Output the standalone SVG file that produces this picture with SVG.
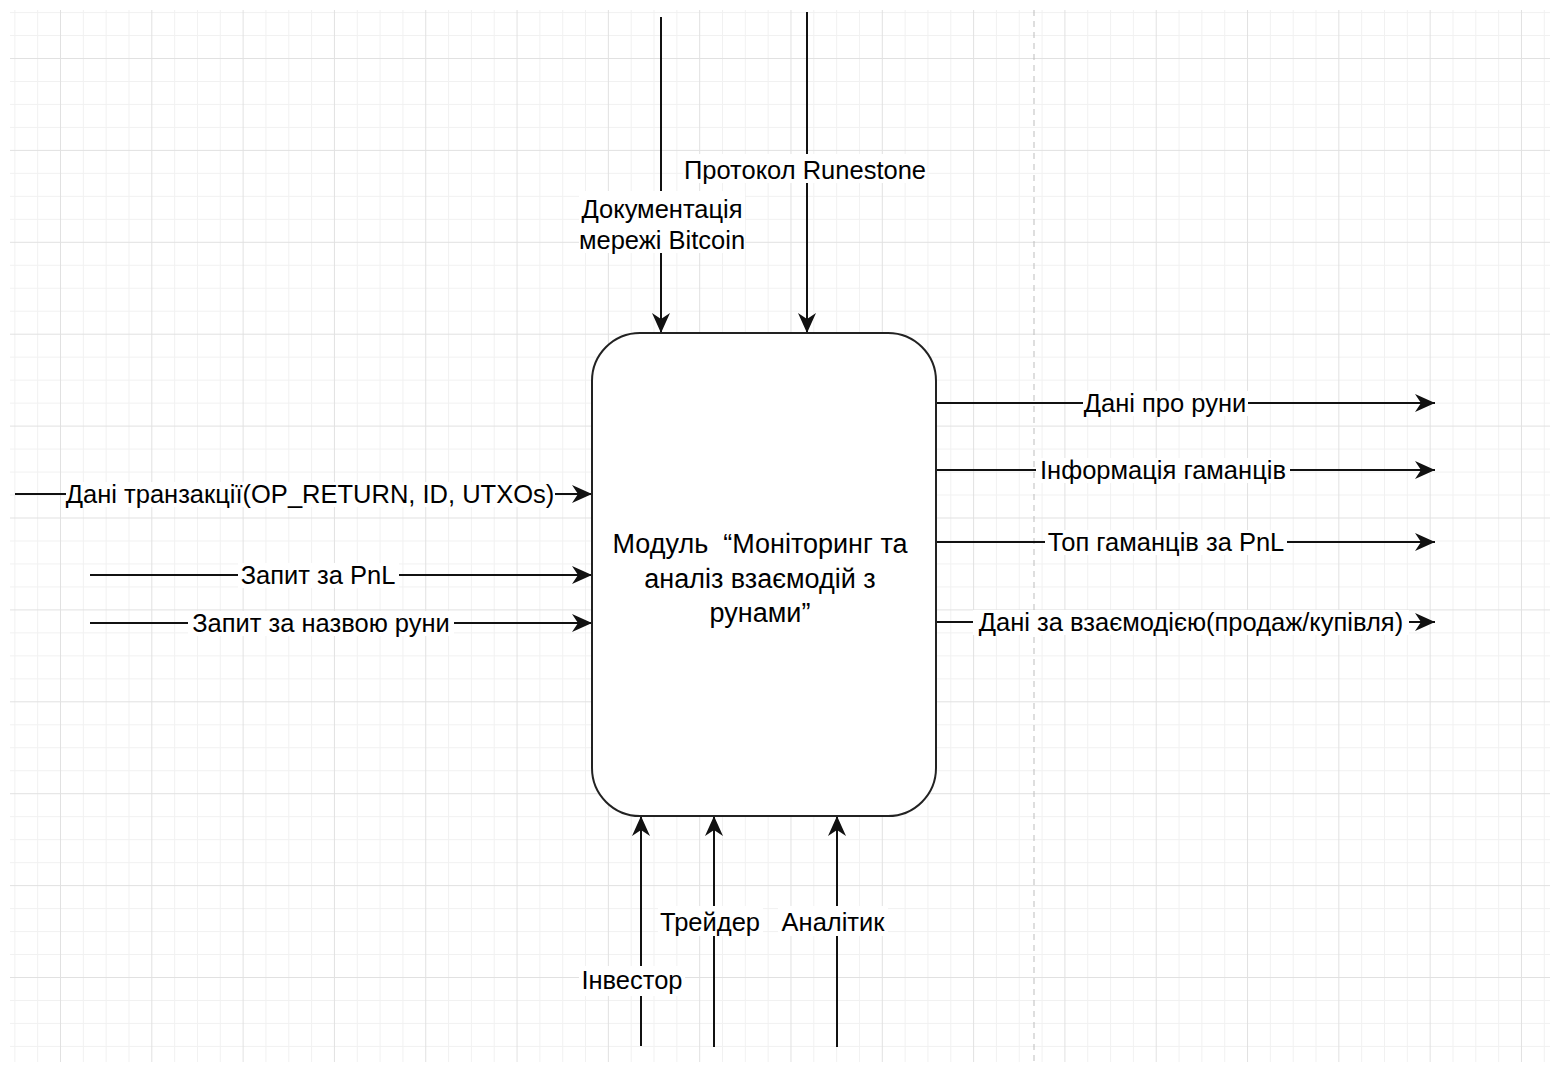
<svg xmlns="http://www.w3.org/2000/svg" width="1556" height="1067" viewBox="0 0 1556 1067">
<style>
.lbl{font-family:"Liberation Sans",Arial,Helvetica,sans-serif;font-size:25.5px;fill:#000;}
.title{font-family:"Liberation Sans",Arial,Helvetica,sans-serif;font-size:27px;fill:#000;}
.bg{fill:#ffffff;}
.conn{stroke:#111;stroke-width:2;fill:none;}
.node{fill:#ffffff;stroke:#222;stroke-width:2;}
</style>
<defs>
<pattern id="grid" patternUnits="userSpaceOnUse" x="60" y="58" width="91.31" height="91.9">
<rect x="22.83" y="0" width="1" height="91.9" fill="#f1f1f1"/>
<rect x="45.66" y="0" width="1" height="91.9" fill="#f1f1f1"/>
<rect x="68.48" y="0" width="1" height="91.9" fill="#f1f1f1"/>
<rect x="0" y="22.98" width="91.31" height="1" fill="#f1f1f1"/>
<rect x="0" y="45.95" width="91.31" height="1" fill="#f1f1f1"/>
<rect x="0" y="68.93" width="91.31" height="1" fill="#f1f1f1"/>
<rect x="0" y="0" width="1" height="91.9" fill="#e1e1e1"/>
<rect x="0" y="0" width="91.31" height="1" fill="#e1e1e1"/>
</pattern>
<marker id="arrow" markerUnits="userSpaceOnUse" viewBox="0 0 20 18" markerWidth="20" markerHeight="18" refX="20" refY="9" orient="auto">
<path d="M0,0 L20,9 L0,18 L6,9 Z" fill="#111"/>
</marker>
</defs>
<rect x="0" y="0" width="1556" height="1067" fill="#ffffff"/>
<rect x="10" y="10" width="1540" height="1052" fill="url(#grid)"/>
<line x1="1034" y1="10" x2="1034" y2="1062" stroke="#bdbdbd" stroke-width="1" stroke-dasharray="6 5"/>

<g id="connectors">
<line class="conn" x1="661" y1="17" x2="661" y2="333" marker-end="url(#arrow)"/>
<line class="conn" x1="807" y1="12" x2="807" y2="333" marker-end="url(#arrow)"/>
<line class="conn" x1="15" y1="494" x2="592" y2="494" marker-end="url(#arrow)"/>
<line class="conn" x1="90" y1="575" x2="592" y2="575" marker-end="url(#arrow)"/>
<line class="conn" x1="90" y1="623" x2="592" y2="623" marker-end="url(#arrow)"/>
<line class="conn" x1="936" y1="403" x2="1435" y2="403" marker-end="url(#arrow)"/>
<line class="conn" x1="936" y1="470" x2="1435" y2="470" marker-end="url(#arrow)"/>
<line class="conn" x1="936" y1="542" x2="1435" y2="542" marker-end="url(#arrow)"/>
<line class="conn" x1="936" y1="622" x2="1435" y2="622" marker-end="url(#arrow)"/>
<line class="conn" x1="641" y1="1046" x2="641" y2="816" marker-end="url(#arrow)"/>
<line class="conn" x1="714" y1="1047" x2="714" y2="816" marker-end="url(#arrow)"/>
<line class="conn" x1="837" y1="1047" x2="837" y2="816" marker-end="url(#arrow)"/>

<g id="label-docs">
<rect class="bg" x="579" y="191" width="166" height="62"/>
<text class="lbl" text-anchor="middle" x="662" y="218">Документація</text>
<text class="lbl" text-anchor="middle" x="662" y="249">мережі Bitcoin</text>
</g>
<g id="label-runestone">
<rect class="bg" x="683" y="154" width="244" height="29"/>
<text class="lbl" text-anchor="middle" x="805" y="179">Протокол Runestone</text>
</g>
<g id="label-tx">
<rect class="bg" x="66" y="482" width="489" height="25"/>
<text class="lbl" text-anchor="middle" x="310" y="503">Дані транзакції(OP_RETURN, ID, UTXOs)</text>
</g>
<g id="label-pnl">
<rect class="bg" x="238" y="563" width="161" height="25"/>
<text class="lbl" text-anchor="middle" x="318" y="584">Запит за PnL</text>
</g>
<g id="label-name">
<rect class="bg" x="188" y="611" width="266" height="25"/>
<text class="lbl" text-anchor="middle" x="321" y="632">Запит за назвою руни</text>
</g>
<g id="label-runes">
<rect class="bg" x="1083" y="391" width="165" height="25"/>
<text class="lbl" text-anchor="middle" x="1165" y="412">Дані про руни</text>
</g>
<g id="label-wallets">
<rect class="bg" x="1036" y="458" width="254" height="25"/>
<text class="lbl" text-anchor="middle" x="1163" y="479">Інформація гаманців</text>
</g>
<g id="label-top">
<rect class="bg" x="1045" y="530" width="242" height="25"/>
<text class="lbl" text-anchor="middle" x="1166" y="551">Топ гаманців за PnL</text>
</g>
<g id="label-interaction">
<rect class="bg" x="973" y="610" width="436" height="25"/>
<text class="lbl" text-anchor="middle" x="1191" y="631">Дані за взаємодією(продаж/купівля)</text>
</g>
<g id="label-investor">
<rect class="bg" x="579" y="966" width="106" height="30"/>
<text class="lbl" text-anchor="middle" x="632" y="989">Інвестор</text>
</g>
<g id="label-trader">
<rect class="bg" x="658" y="906" width="105" height="30"/>
<text class="lbl" text-anchor="middle" x="710" y="931">Трейдер</text>
</g>
<g id="label-analyst">
<rect class="bg" x="778" y="906" width="110" height="30"/>
<text class="lbl" text-anchor="middle" x="833" y="931">Аналітик</text>
</g>
</g>

<g id="module">
<rect class="node" x="592" y="333" width="344" height="483" rx="48" ry="48"/>
<text class="title" text-anchor="middle" x="760" y="553" xml:space="preserve">Модуль  “Моніторинг та</text>
<text class="title" text-anchor="middle" x="760" y="588">аналіз взаємодій з</text>
<text class="title" text-anchor="middle" x="760" y="622">рунами”</text>
</g>
</svg>
